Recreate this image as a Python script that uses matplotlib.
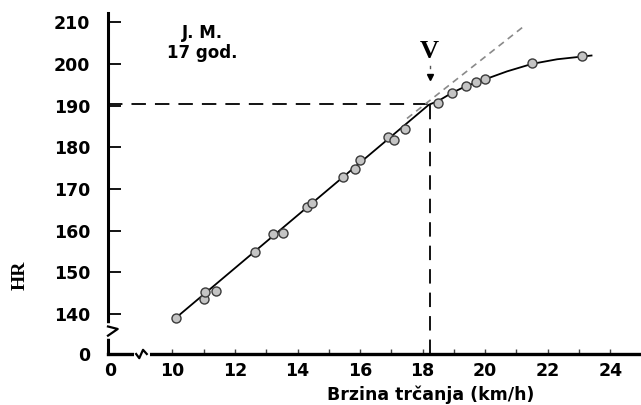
import numpy as np
import matplotlib.pyplot as plt

# measured points (speed km/h, heart rate)
speed = [10.1, 11.0, 11.05, 11.4, 12.65, 13.2, 13.55, 14.3, 14.45, 15.45,
         15.85, 16.0, 16.9, 17.1, 17.45, 18.5, 18.95, 19.4, 19.7, 20.0,
         21.5, 23.1]
hr = [139.0, 143.5, 145.3, 145.5, 154.9, 159.2, 159.4, 165.7, 166.6, 172.9,
      174.8, 176.9, 182.4, 181.7, 184.4, 190.6, 193.0, 194.7, 195.6, 196.3,
      200.2, 201.9]

# drawn curve through the points
curve_x = [10.1, 18.2, 18.5, 18.95, 19.4, 20.0, 20.7, 21.5, 22.3, 23.4]
curve_y = [139.0, 190.2, 191.1, 193.1, 194.7, 196.3, 198.2, 200.0, 201.1, 202.0]

# extrapolated linear part (grey dashed)
ext_x = [17.5, 21.2]
ext_y = [186.9, 208.8]

# deflection point
v_speed = 18.25
v_hr = 190.4

x_zero = 8.0      # where the "0" of the broken x axis sits
y_zero = 130.4    # where the "0" of the broken y axis sits
x_ticks = [10, 12, 14, 16, 18, 20, 22, 24]
y_ticks = [140, 150, 160, 170, 180, 190, 200, 210]

fig = plt.figure(figsize=(6.41, 4.05), dpi=100)
ax = fig.add_axes([108 / 641, 51 / 405, 532 / 641, 341 / 405])
ax.set_xlim(7.94, 24.95)
ax.set_ylim(y_zero, 212.2)

for s in ['top', 'right']:
    ax.spines[s].set_visible(False)
ax.spines['left'].set_linewidth(2.2)
ax.spines['bottom'].set_linewidth(2.4)

# dashed guide lines
ax.plot([7.94, v_speed], [v_hr, v_hr], color='black', lw=1.3, dashes=(8, 5))
ax.plot([v_speed, v_speed], [y_zero, v_hr], color='black', lw=1.3, dashes=(8, 5))
ax.plot(ext_x, ext_y, color='#8a8a8a', lw=1.2, dashes=(4, 3))

ax.plot(curve_x, curve_y, color='black', lw=1.3, zorder=3)
ax.plot(speed, hr, 'o', ms=6.5, mfc='#c4c4c4', mec='#3a3a3a', mew=1.0, zorder=4)

# arrow marking V
ax.plot([v_speed], [196.9], marker='v', ms=5, color='black')
ax.plot([v_speed, v_speed], [199.0, 199.6], color='#555555', lw=1)
ax.text(v_speed - 0.05, 203.0, 'V', ha='center', va='center', fontsize=19,
        fontweight='bold', family='Liberation Serif')

ax.text(10.96, 204.9, 'J. M.\n17 god.', ha='center', va='center',
        fontsize=12, fontweight='bold', linespacing=1.15)

# ticks
ax.set_yticks([y_zero] + y_ticks)
ax.set_yticklabels(['0'] + [str(t) for t in y_ticks])
ax.set_xticks([x_zero] + x_ticks)
ax.set_xticklabels(['0'] + [str(t) for t in x_ticks])
ax.set_xticks(np.arange(10, 25, 1), minor=True)
ax.tick_params(axis='y', direction='in', length=9, width=1.3, pad=13,
               labelsize=12.5)
ax.tick_params(axis='x', which='both', direction='in', length=3.5,
               width=1.0, pad=6, labelsize=12.5, color='#444444')
ax.yaxis.get_major_ticks()[0].tick1line.set_visible(False)
ax.xaxis.get_major_ticks()[0].tick1line.set_visible(False)
for lab in ax.get_xticklabels() + ax.get_yticklabels():
    lab.set_fontweight('bold')

ax.set_xlabel('Brzina trčanja (km/h)', fontsize=12.5, fontweight='bold')
ax.xaxis.label.set_va('center')
ax.xaxis.set_label_coords(0.606, -0.12)
ax.set_ylabel('HR', fontsize=14, fontweight='bold', family='Liberation Serif')
ax.yaxis.label.set_va('center')
ax.yaxis.set_label_coords(-0.165, 0.23)

# axis breaks
ax.plot([7.94, 7.94], [134.8, 137.0], color='white', lw=4, clip_on=False, zorder=5)
ax.plot([7.94, 8.25, 7.94], [137.0, 136.4, 134.8], color='black', lw=1.6,
        clip_on=False, zorder=6, solid_joinstyle='round')
ax.plot([8.86, 9.16], [y_zero, y_zero], color='white', lw=5, clip_on=False, zorder=5)
ax.plot([8.84, 8.94, 9.06, 9.18], [y_zero, y_zero - 1.0, y_zero + 1.0, y_zero],
        color='black', lw=1.6, clip_on=False, zorder=6)

fig.savefig('out.png', dpi=100)
